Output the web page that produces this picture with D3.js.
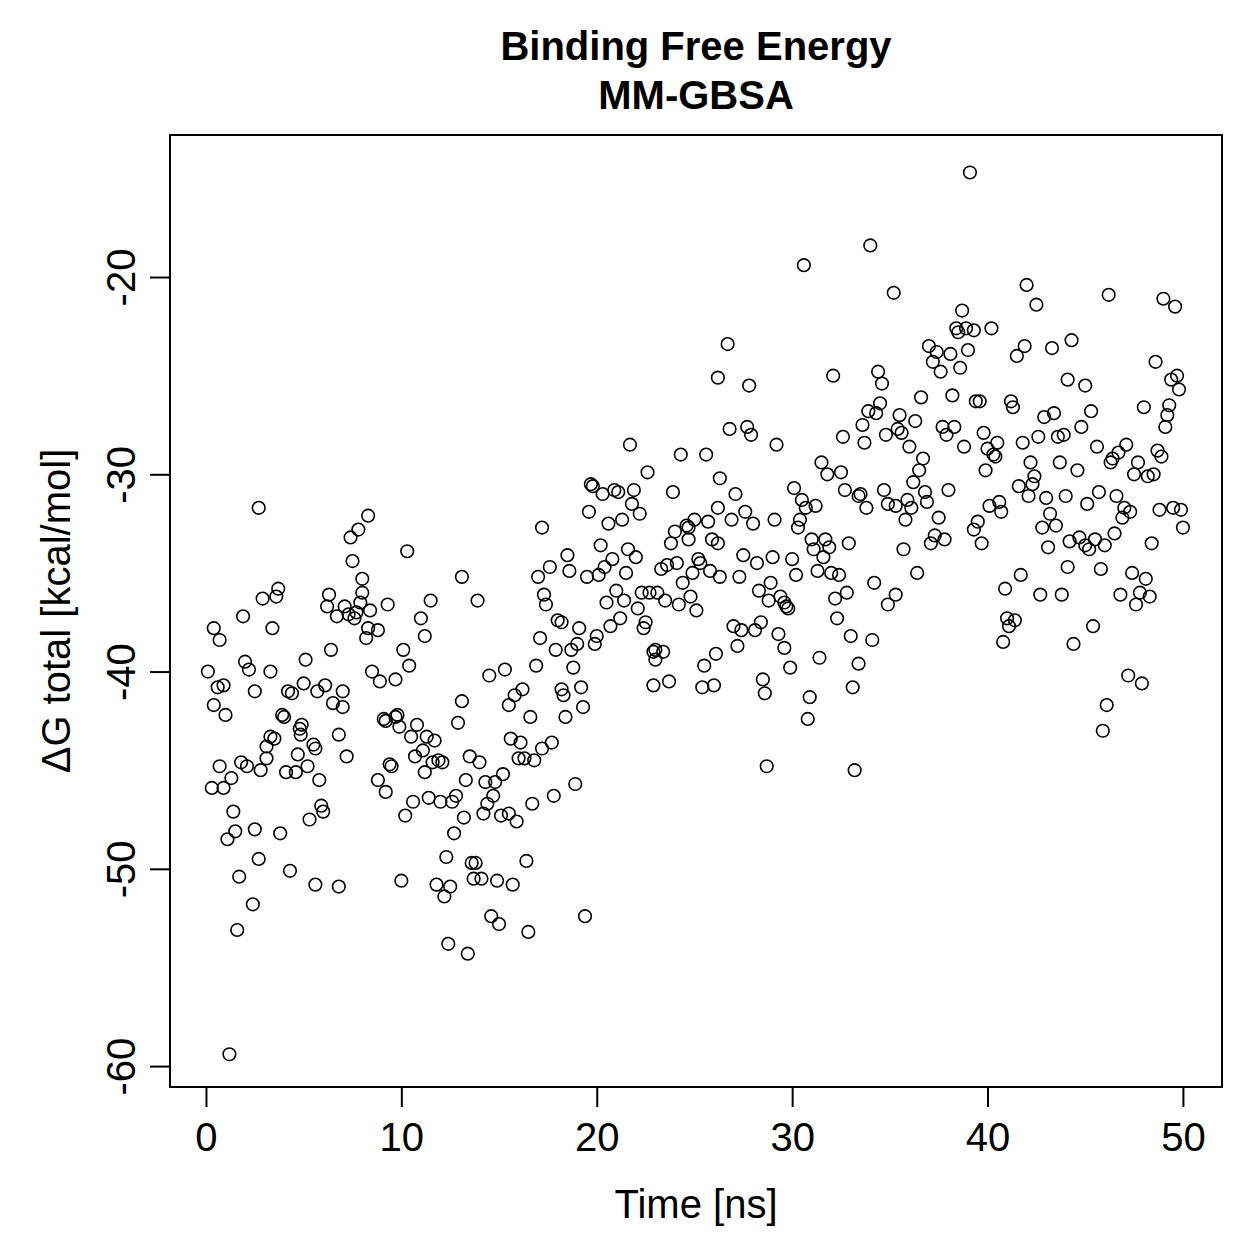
<!DOCTYPE html>
<html>
<head>
<meta charset="utf-8">
<script src="https://cdn.jsdelivr.net/npm/d3@7"></script>
<style>
  body { margin: 0; background: #fff; }
  svg text { font-family: "Liberation Sans", Arial, Helvetica, sans-serif; fill: #000; }
</style>
</head>
<body>
<svg id="chart" width="1259" height="1259"></svg>
<script>
// time of each frame (ns)
const timeNs = [
  // 0 - 9 ns
  2.7, 8.3, 7.8, 7.4, 7.5, 8.0, 8.0, 7.9, 3.7, 3.6,
  2.9, 6.3, 6.2, 6.7, 7.1, 7.3, 7.6, 7.7, 8.4, 1.9,
  3.4, 0.4, 0.7, 8.3, 8.2, 6.4, 5.1, 0.1, 2.0, 2.2,
  3.3, 8.5, 0.6, 0.9, 2.5, 4.2, 4.4, 5.0, 5.7, 6.1,
  7.0, 6.5, 7.0, 0.4, 1.0, 3.9, 4.0, 4.9, 4.8, 4.85,
  6.8, 3.3, 3.5, 3.1, 5.5, 5.6, 4.7, 7.2, 3.1, 1.8,
  2.1, 0.7, 2.8, 5.2, 4.1, 4.6, 1.3, 5.8, 0.3, 0.9,
  5.9, 6.0, 5.3, 1.4, 1.5, 1.1, 2.5, 3.8, 2.7, 4.3,
  1.7, 5.6, 6.8, 2.4, 1.6, 1.2,
  // 9 - 17.5 ns
  10.3, 13.1, 13.9, 11.5, 17.2, 17.0, 17.3, 17.4, 9.3, 11.0,
  11.2, 8.8, 10.1, 10.4, 8.9, 9.7, 17.1, 16.9, 15.3, 14.5,
  16.2, 15.8, 15.5, 16.6, 13.1, 12.9, 9.1, 9.2, 9.7, 9.8,
  9.9, 10.8, 10.5, 11.3, 11.7, 11.1, 10.7, 11.6, 11.9, 12.1,
  9.4, 9.5, 13.5, 14.0, 15.6, 16.1, 17.2, 16.0, 16.3, 16.8,
  11.2, 15.2, 8.8, 13.3, 14.3, 14.8, 9.2, 14.7, 14.4, 14.2,
  15.1, 15.5, 15.9, 16.7, 10.6, 11.4, 12.0, 12.6, 12.8, 10.2,
  13.2, 12.7, 12.3, 13.6, 13.8, 16.4, 10.0, 11.8, 12.5, 12.2,
  13.7, 14.1, 14.9, 15.7, 14.6, 15.0, 16.5, 12.4, 13.4,
  // 17.5 - 26.5 ns
  21.7, 24.3, 25.6, 22.6, 26.3, 19.7, 19.8, 20.3, 20.9, 21.1,
  21.9, 21.8, 22.2, 23.9, 19.6, 20.6, 21.3, 26.2, 24.0, 24.6,
  24.7, 25.0, 25.7, 24.7, 25.9, 26.2, 23.8, 20.2, 18.5, 18.6,
  17.6, 21.6, 22.0, 20.8, 20.4, 20.1, 19.5, 21.5, 23.3, 23.6,
  24.1, 25.2, 25.3, 24.9, 25.8, 26.3, 24.4, 22.3, 22.7, 23.1,
  23.5, 24.8, 24.2, 25.1, 21.0, 21.4, 20.5, 22.1, 22.5, 22.4,
  21.2, 20.7, 18.0, 18.2, 19.1, 20.0, 19.9, 19.0, 18.7, 17.9,
  22.9, 23.0, 23.4, 23.0, 26.1, 25.5, 18.8, 18.2, 18.3, 19.2,
  19.3, 18.4, 22.9, 23.7, 25.4, 26.0, 17.7, 18.9, 17.8, 19.4,
  // 26.5 - 35.5 ns
  34.0, 30.6, 26.7, 26.2, 27.8, 32.1, 34.4, 34.6, 34.5, 34.3,
  33.9, 33.6, 34.8, 33.7, 32.6, 26.8, 27.7, 27.9, 29.2, 31.5,
  31.8, 32.5, 32.7, 33.4, 33.5, 33.8, 34.7, 34.9, 35.3, 27.1,
  26.9, 27.6, 28.0, 30.1, 30.5, 30.7, 31.2, 29.1, 30.4, 30.3,
  27.5, 28.2, 29.0, 30.0, 30.2, 27.3, 31.0, 31.1, 31.7, 31.9,
  31.6, 31.3, 32.0, 32.4, 32.9, 34.2, 34.9, 35.3, 28.9, 28.3,
  28.8, 29.4, 29.6, 29.7, 29.8, 32.8, 32.2, 32.3, 27.0, 27.4,
  28.1, 28.4, 29.3, 29.6, 27.2, 33.0, 34.1, 31.4, 33.4, 29.9,
  28.5, 28.6, 30.9, 33.1, 30.8, 28.7, 33.2,
  // 35 - 44.5 ns
  39.1, 35.2, 42.0, 42.5, 38.7, 38.4, 38.5, 38.9, 39.3, 40.2,
  37.0, 37.4, 37.2, 37.6, 38.1, 39.0, 38.6, 41.9, 41.5, 43.3,
  44.3, 44.1, 36.6, 38.2, 39.4, 39.6, 41.2, 41.3, 35.5, 36.3,
  35.4, 35.6, 37.7, 37.9, 38.3, 39.8, 40.5, 38.8, 41.8, 42.6,
  42.9, 43.4, 43.6, 43.9, 36.0, 40.0, 36.7, 36.5, 36.2, 36.8,
  36.9, 35.9, 36.1, 38.0, 35.8, 37.5, 37.3, 37.1, 37.8, 35.7,
  36.4, 40.3, 40.4, 39.9, 42.2, 43.7, 42.4, 42.3, 41.6, 42.1,
  43.0, 44.0, 40.6, 40.1, 40.7, 39.5, 39.3, 39.7, 43.2, 43.5,
  42.8, 43.1, 44.2, 44.1, 41.7, 40.9, 42.7, 43.8, 41.0, 41.4,
  41.1, 40.8, 44.4,
  // 44.5 - 50 ns
  46.2, 49.0, 49.6, 48.6, 45.0, 49.7, 49.4, 49.8, 48.0, 49.3,
  49.2, 49.1, 45.3, 44.8, 45.6, 47.1, 46.7, 46.4, 46.3, 47.7,
  48.7, 48.9, 47.5, 48.2, 48.5, 44.6, 45.1, 45.7, 46.6, 47.0,
  47.3, 46.9, 48.8, 49.5, 49.9, 50.0, 46.5, 44.7, 45.0, 45.2,
  45.5, 46.0, 48.4, 45.8, 47.4, 48.1, 46.8, 47.8, 48.3, 47.6,
  45.4, 47.2, 47.9, 46.1, 45.9
];

// ΔG total of each frame (kcal/mol), same order as timeNs
const deltaG = [
  -31.7, -32.1, -32.8, -33.2, -34.4, -35.3, -36.0, -36.5, -35.8, -36.2,
  -36.3, -36.1, -36.7, -37.2, -36.7, -37.1, -37.3, -37.0, -36.9, -37.2,
  -37.8, -37.8, -38.4, -37.8, -38.3, -38.9, -39.4, -40.0, -39.5, -39.9,
  -40.0, -40.0, -40.8, -40.7, -41.0, -41.0, -41.1, -40.6, -41.0, -40.7,
  -41.0, -41.6, -41.8, -41.7, -42.2, -42.2, -42.3, -42.7, -42.9, -43.2,
  -43.2, -43.3, -43.4, -43.8, -43.7, -43.9, -44.2, -44.3, -44.4, -44.6,
  -44.8, -44.8, -45.0, -44.8, -45.1, -45.1, -45.4, -45.5, -45.9, -45.9,
  -46.8, -47.1, -47.5, -47.1, -48.1, -48.5, -48.0, -48.2, -49.5, -50.1,
  -50.4, -50.8, -50.9, -51.8, -53.1, -59.4,

  -33.9, -35.2, -36.4, -36.4, -32.7, -35.2, -36.1, -36.6, -36.6, -37.3,
  -38.2, -37.9, -38.9, -39.7, -40.5, -40.4, -38.3, -39.7, -39.9, -40.2,
  -40.9, -41.2, -41.7, -42.3, -41.5, -42.6, -42.4, -42.5, -42.3, -42.2,
  -42.8, -42.7, -43.3, -43.3, -43.5, -44.0, -44.3, -44.6, -44.5, -44.6,
  -44.7, -44.8, -44.3, -44.6, -43.4, -43.6, -43.9, -44.4, -44.4, -44.5,
  -45.1, -45.2, -45.5, -45.5, -45.6, -45.6, -46.1, -46.3, -46.7, -47.2,
  -47.3, -47.2, -47.6, -46.7, -46.6, -46.4, -46.6, -46.6, -46.3, -47.3,
  -47.4, -48.2, -49.4, -49.7, -49.7, -49.6, -50.6, -50.8, -50.9, -51.4,
  -50.5, -50.5, -50.6, -50.8, -52.4, -52.8, -53.2, -53.8, -54.3,

  -28.5, -29.0, -29.0, -29.9, -30.2, -30.5, -30.6, -31.0, -30.8, -30.9,
  -30.8, -31.5, -32.0, -30.9, -31.9, -32.5, -32.3, -31.7, -32.9, -32.6,
  -32.7, -32.3, -32.4, -33.3, -33.3, -33.5, -33.5, -33.6, -34.1, -34.9,
  -34.7, -33.8, -34.2, -34.3, -34.7, -35.1, -35.2, -35.0, -34.8, -34.6,
  -34.5, -34.3, -34.5, -35.0, -34.9, -35.2, -35.5, -36.0, -36.0, -36.0,
  -36.4, -36.2, -36.6, -36.9, -35.9, -36.4, -36.5, -36.8, -37.5, -37.8,
  -37.3, -37.7, -37.4, -37.5, -37.8, -38.2, -38.6, -38.6, -38.9, -38.9,
  -39.0, -38.9, -39.0, -39.4, -39.1, -39.7, -39.8, -40.9, -41.2, -40.8,
  -41.8, -42.3, -40.7, -40.5, -40.8, -40.7, -43.6, -45.7, -46.3, -52.4,

  -18.4, -19.4, -23.4, -25.1, -25.5, -25.0, -24.8, -25.4, -26.4, -26.9,
  -26.8, -27.5, -28.0, -28.4, -28.1, -27.7, -27.6, -28.0, -28.5, -29.4,
  -30.0, -29.9, -30.8, -31.1, -31.0, -31.7, -30.8, -31.5, -31.6, -31.0,
  -32.3, -31.9, -32.5, -30.7, -31.3, -31.7, -31.6, -32.3, -32.3, -32.7,
  -34.1, -34.5, -34.2, -34.3, -35.1, -35.2, -33.3, -33.8, -33.3, -33.7,
  -34.2, -34.9, -35.0, -35.1, -33.5, -35.5, -36.6, -36.1, -35.5, -35.9,
  -36.4, -36.2, -36.5, -36.7, -36.8, -36.0, -36.3, -37.3, -37.7, -37.9,
  -37.9, -37.5, -38.1, -38.8, -38.7, -38.2, -38.4, -39.3, -39.6, -39.8,
  -40.4, -41.1, -41.3, -40.8, -42.4, -44.8, -45.0,

  -14.7, -20.8, -20.4, -21.4, -21.7, -22.6, -22.8, -22.6, -22.7, -22.6,
  -23.5, -23.8, -24.3, -24.8, -23.9, -23.7, -24.6, -23.5, -24.0, -23.6,
  -23.2, -25.2, -26.1, -26.0, -26.3, -26.3, -26.3, -26.6, -27.0, -27.3,
  -27.7, -27.9, -27.6, -28.0, -27.6, -27.9, -28.4, -28.6, -28.4, -28.1,
  -27.1, -26.9, -28.1, -28.0, -28.6, -28.7, -29.2, -29.8, -30.4, -30.9,
  -31.4, -31.3, -31.7, -30.8, -32.3, -32.2, -33.1, -33.5, -33.3, -33.8,
  -35.0, -29.0, -29.1, -29.8, -29.4, -29.4, -30.1, -30.5, -30.6, -31.1,
  -31.2, -31.1, -31.4, -31.6, -31.9, -32.4, -32.8, -33.5, -32.0, -32.6,
  -32.7, -33.7, -33.4, -34.7, -35.1, -35.8, -36.1, -36.1, -37.3, -37.4,
  -37.7, -38.5, -38.6,

  -20.9, -21.1, -21.5, -24.3, -25.5, -25.0, -25.2, -25.7, -26.6, -26.5,
  -27.0, -27.6, -26.8, -27.6, -28.6, -28.5, -28.9, -29.2, -29.4, -29.4,
  -28.8, -29.1, -30.0, -30.1, -30.0, -29.8, -31.5, -30.9, -31.1, -31.7,
  -31.9, -32.2, -31.8, -31.7, -31.8, -32.7, -33.0, -33.2, -33.6, -33.8,
  -33.3, -33.6, -33.5, -34.8, -35.0, -35.3, -36.1, -36.0, -36.2, -36.6,
  -37.7, -40.2, -40.6, -41.7, -43.0
];

const xTicks = [0, 10, 20, 30, 40, 50];
const yTicks = [-60, -50, -40, -30, -20];
const xLim = [-1.84, 52.0];
const yLim = [-61.06, -12.8];

const titleLines = ["Binding Free Energy", "MM-GBSA"];
const xTitle = "Time [ns]";
const yTitle = "\u0394G total [kcal/mol]";

const plot = { left: 170, right: 1222, top: 135, bottom: 1087 };
const fontSize = 40;

const data = timeNs.map((t, i) => ({ t: t, g: deltaG[i] }));

const svg = d3.select("#chart");

const xScale = d3.scaleLinear().domain(xLim).range([plot.left, plot.right]);
const yScale = d3.scaleLinear().domain(yLim).range([plot.bottom, plot.top]);

// points
svg.append("g").selectAll("circle").data(data).join("circle")
  .attr("cx", d => xScale(d.t))
  .attr("cy", d => yScale(d.g))
  .attr("r", 6.3)
  .attr("fill", "none")
  .attr("stroke", "#000")
  .attr("stroke-width", 1.6);

// x axis
const gx = svg.append("g")
  .attr("transform", `translate(0,${plot.bottom})`)
  .call(d3.axisBottom(xScale).tickValues(xTicks).tickSize(20).tickFormat(d3.format("d")));
gx.select(".domain").remove();
gx.selectAll(".tick line").attr("stroke", "#000").attr("stroke-width", 2);
gx.selectAll(".tick text")
  .attr("y", 64).attr("dy", null)
  .style("font-size", fontSize + "px");

// y axis, labels rotated like R's default las = 0
const gy = svg.append("g")
  .attr("transform", `translate(${plot.left},0)`)
  .call(d3.axisLeft(yScale).tickValues(yTicks).tickSize(20).tickFormat(d => d.toString()));
gy.select(".domain").remove();
gy.selectAll(".tick line").attr("stroke", "#000").attr("stroke-width", 2);
gy.selectAll(".tick text")
  .attr("x", 0).attr("y", -35).attr("dy", null)
  .attr("transform", "rotate(-90)")
  .attr("text-anchor", "middle")
  .style("font-size", fontSize + "px");

// box
svg.append("rect")
  .attr("x", plot.left).attr("y", plot.top)
  .attr("width", plot.right - plot.left).attr("height", plot.bottom - plot.top)
  .attr("fill", "none").attr("stroke", "#000").attr("stroke-width", 2);

// titles
const cx = (plot.left + plot.right) / 2;
svg.selectAll(".main-title").data(titleLines).join("text")
  .attr("class", "main-title")
  .attr("x", cx)
  .attr("y", (d, i) => 60 + i * 49)
  .attr("text-anchor", "middle")
  .style("font-size", fontSize + "px")
  .style("font-weight", "bold")
  .text(d => d);

svg.append("text")
  .attr("x", cx).attr("y", 1218)
  .attr("text-anchor", "middle")
  .style("font-size", fontSize + "px")
  .text(xTitle);

svg.append("text")
  .attr("transform", `translate(70,${(plot.top + plot.bottom) / 2}) rotate(-90)`)
  .attr("text-anchor", "middle")
  .style("font-size", fontSize + "px")
  .text(yTitle);
</script>
</body>
</html>
